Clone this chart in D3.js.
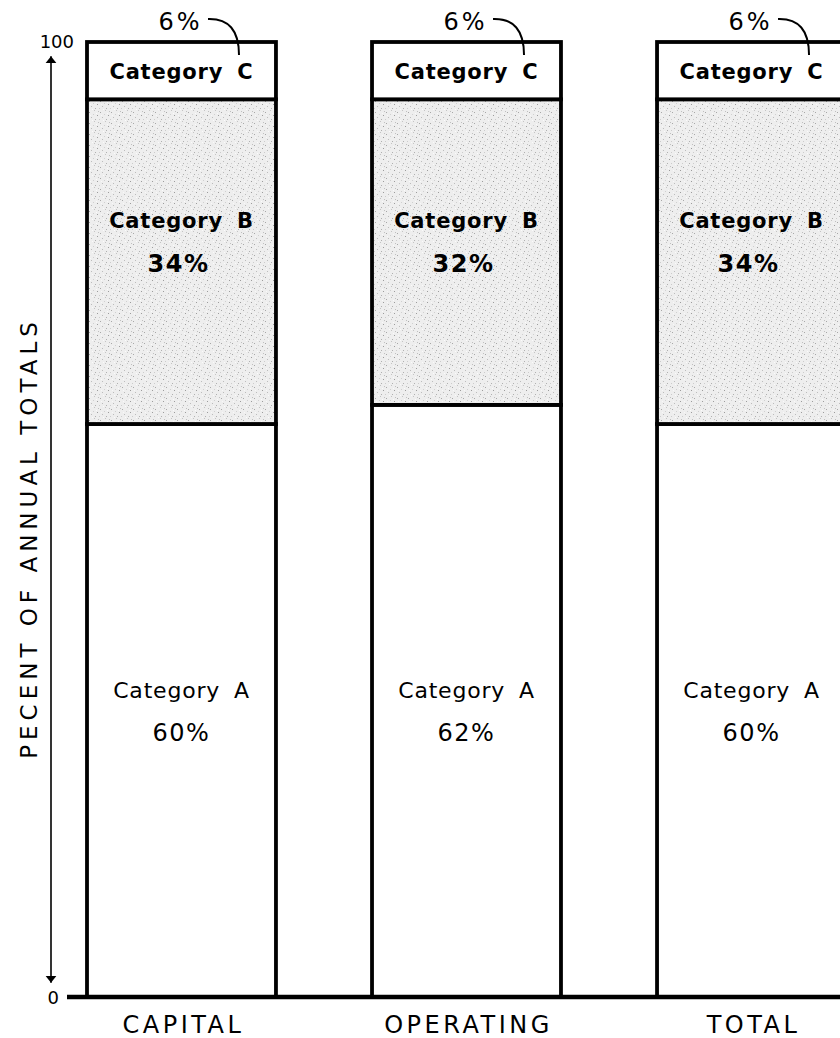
<!DOCTYPE html>
<html>
<head>
<meta charset="utf-8">
<script src="https://cdn.jsdelivr.net/npm/d3@7"></script>
<style>
  body { margin: 0; background: #fff; }
  svg { display: block; }
  text { font-family: "DejaVu Sans", sans-serif; fill: #000; }
</style>
</head>
<body>
<div id="chart"></div>
<script>
// chart data
const categories = ["CAPITAL", "OPERATING", "TOTAL"];
const seriesNames = ["Category A", "Category B", "Category C"];
const categoryA = [60, 62, 60];
const categoryB = [34, 32, 34];
const categoryC = [6, 6, 6];
const yTicks = [0, 100];
const yTitle = "PECENT OF ANNUAL TOTALS";

const width = 840, height = 1038;

const svg = d3.select('#chart')
    .append('svg')
    .attr('width', width)
    .attr('height', height);

// stipple texture for the middle segment
const defs = svg.append('defs');
const pat = defs.append('pattern')
    .attr('id', 'stipple')
    .attr('patternUnits', 'userSpaceOnUse')
    .attr('width', 11)
    .attr('height', 11);
pat.append('rect').attr('width', 11).attr('height', 11).attr('fill', '#eeeeee');
[[1, 2, '#a8a8a8'], [6, 0, '#c4c4c4'], [9, 5, '#9c9c9c'], [3, 7, '#bcbcbc'],
 [7, 9, '#b0b0b0'], [0, 9, '#cccccc'], [5, 4, '#d0d0d0'], [10, 1, '#c0c0c0'],
 [4, 10, '#fafafa'], [8, 3, '#fafafa'], [2, 5, '#f8f8f8']]
    .forEach(([x, y, c]) => {
        pat.append('rect').attr('x', x).attr('y', y)
            .attr('width', 1).attr('height', 1).attr('fill', c);
    });

// arrow markers
['start', 'end'].forEach(k => {
    defs.append('marker')
        .attr('id', 'arrow-' + k)
        .attr('viewBox', '0 0 10 20')
        .attr('refX', 10).attr('refY', 10)
        .attr('markerWidth', 7).attr('markerHeight', 14)
        .attr('markerUnits', 'userSpaceOnUse')
        .attr('orient', 'auto-start-reverse')
        .append('path')
        .attr('d', 'M0,2 L10,10 L0,18 Z')
        .attr('fill', '#000');
});

// scales
const xScale = d3.scaleBand()
    .domain(categories)
    .range([87, 846])
    .paddingInner(0.337)
    .paddingOuter(0);

const yScale = d3.scaleLinear()
    .domain([0, 100])
    .range([997, 42]);

// stack the three series
const rows = categories.map((c, i) => ({
    cat: c,
    'Category A': categoryA[i],
    'Category B': categoryB[i],
    'Category C': categoryC[i]
}));
const stacked = d3.stack().keys(seriesNames)(rows);

const fills = { 'Category A': '#fff', 'Category B': 'url(#stipple)', 'Category C': '#fff' };

const segs = svg.append('g').attr('class', 'bars');
stacked.forEach(layer => {
    segs.selectAll('rect.s' + layer.index)
        .data(layer)
        .enter()
        .append('rect')
        .attr('class', 's' + layer.index)
        .attr('x', d => xScale(d.data.cat))
        .attr('y', d => yScale(d[1]))
        .attr('width', xScale.bandwidth())
        .attr('height', d => yScale(d[0]) - yScale(d[1]))
        .attr('fill', fills[layer.key])
        .attr('stroke', '#000')
        .attr('stroke-width', 3.8);
});

// baseline
svg.append('line')
    .attr('x1', 67).attr('x2', width)
    .attr('y1', yScale(0)).attr('y2', yScale(0))
    .attr('stroke', '#000')
    .attr('stroke-width', 4.5);

// y tick labels
svg.selectAll('text.ytick')
    .data(yTicks)
    .enter()
    .append('text')
    .attr('class', 'ytick')
    .attr('x', d => d === 100 ? 74 : 59)
    .attr('y', d => yScale(d) + (d === 100 ? 6 : 7))
    .attr('text-anchor', 'end')
    .style('font-size', '18px')
    .text(d => d);

// double-headed arrow on the y side
svg.append('line')
    .attr('x1', 51).attr('x2', 51)
    .attr('y1', yScale(98.5)).attr('y2', yScale(1.5))
    .attr('stroke', '#000')
    .attr('stroke-width', 1.6)
    .attr('marker-start', 'url(#arrow-start)')
    .attr('marker-end', 'url(#arrow-end)');

// y title
svg.append('text')
    .attr('transform', `translate(37, ${538}) rotate(-90)`)
    .attr('text-anchor', 'middle')
    .style('font-size', '23px')
    .style('letter-spacing', '5px')
    .text(yTitle);

// category names under the bars
svg.selectAll('text.cat')
    .data(categories)
    .enter()
    .append('text')
    .attr('class', 'cat')
    .attr('x', d => xScale(d) + xScale.bandwidth() / 2 + 2)
    .attr('y', 1033)
    .attr('text-anchor', 'middle')
    .style('font-size', '24px')
    .style('letter-spacing', '3.5px')
    .text(d => d);

const cx = d => xScale(d) + xScale.bandwidth() / 2;

// labels inside the segments
const labels = svg.append('g').attr('class', 'seg-labels');
categories.forEach((c, i) => {
    labels.append('text')
        .attr('x', cx(c))
        .attr('y', yScale(100 - categoryC[i] / 2) + 8)
        .attr('text-anchor', 'middle')
        .style('font-size', '21px')
        .style('font-weight', 'bold')
        .style('letter-spacing', '0.8px')
        .style('word-spacing', '6px')
        .text('Category C');

    labels.append('text')
        .attr('x', cx(c))
        .attr('y', 228)
        .attr('text-anchor', 'middle')
        .style('font-size', '21px')
        .style('font-weight', 'bold')
        .style('letter-spacing', '0.8px')
        .style('word-spacing', '6px')
        .text('Category B');
    labels.append('text')
        .attr('x', cx(c) - 3)
        .attr('y', 272)
        .attr('text-anchor', 'middle')
        .style('font-size', '24px')
        .style('font-weight', 'bold')
        .style('letter-spacing', '1.5px')
        .text(categoryB[i] + '%');

    labels.append('text')
        .attr('x', cx(c))
        .attr('y', 698)
        .attr('text-anchor', 'middle')
        .style('font-size', '22px')
        .style('letter-spacing', '0.8px')
        .style('word-spacing', '6px')
        .text('Category A');
    labels.append('text')
        .attr('x', cx(c))
        .attr('y', 741)
        .attr('text-anchor', 'middle')
        .style('font-size', '24px')
        .style('letter-spacing', '1.5px')
        .text(categoryA[i] + '%');

    // small segment value above the bar, with a curved leader
    const x0 = xScale(c);
    svg.append('text')
        .attr('x', cx(c) - 1)
        .attr('y', 30)
        .attr('text-anchor', 'middle')
        .style('font-size', '24px')
        .style('letter-spacing', '3px')
        .text(categoryC[i] + '%');
    const sx = x0 + 121, sy = 19, ex = x0 + 152, ey = 55;
    svg.append('path')
        .attr('d', `M${sx},${sy} Q${ex},${sy - 1} ${ex},${ey}`)
        .attr('fill', 'none')
        .attr('stroke', '#000')
        .attr('stroke-width', 2);
});
</script>
</body>
</html>
